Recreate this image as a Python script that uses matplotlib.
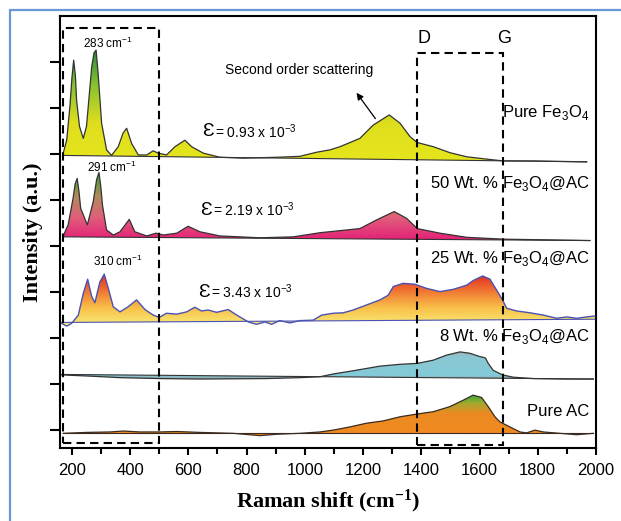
import numpy as np
import matplotlib
import matplotlib.pyplot as plt
from matplotlib.patches import Polygon, Rectangle
from matplotlib.colors import LinearSegmentedColormap

plt.rcParams['font.family'] = ['Liberation Sans', 'DejaVu Sans']
plt.rcParams['mathtext.fontset'] = 'custom'
plt.rcParams['mathtext.rm'] = 'Liberation Sans'
plt.rcParams['mathtext.bf'] = 'Liberation Serif:bold'

# Raman shift (cm-1) / stacked intensity
fe_x = [168, 182, 193, 200, 206, 212, 216, 226, 239, 250, 256, 268, 276, 283, 290, 302, 319, 336, 359, 376,
        388, 405, 428, 457, 479, 496, 525, 554, 588, 611, 651, 708, 788, 903, 983, 1041, 1086, 1121, 1189, 1235,
        1290, 1327, 1361, 1386, 1441, 1498, 1556, 1624, 1682, 1785, 1968]
fe_y = [5.97, 6.30, 7.03, 7.65, 8.04, 7.70, 7.17, 6.60, 6.34, 6.60, 7.03, 7.90, 8.20, 8.26, 7.75, 6.67, 6.09, 5.97, 6.16, 6.46,
        6.56, 6.23, 5.98, 5.98, 6.07, 6.02, 5.98, 6.16, 6.30, 6.16, 6.02, 5.93, 5.91, 5.93, 5.95, 6.04, 6.09, 6.16, 6.34, 6.63,
        6.85, 6.67, 6.38, 6.25, 6.16, 6.03, 5.94, 5.89, 5.85, 5.85, 5.83]

p50_x = [170, 187, 204, 211, 218, 224, 230, 253, 273, 285, 293, 299, 305, 319, 342, 365, 397, 416, 457, 489,
         514, 560, 599, 640, 708, 846, 960, 1052, 1189, 1247, 1307, 1350, 1386, 1464, 1556, 1682, 1979]
p50_y = [4.22, 4.46, 5.04, 5.35, 5.47, 5.20, 4.82, 4.46, 4.96, 5.45, 5.60, 5.30, 4.89, 4.35, 4.24, 4.31, 4.58, 4.31, 4.22, 4.28,
         4.24, 4.28, 4.43, 4.31, 4.22, 4.18, 4.20, 4.29, 4.38, 4.57, 4.75, 4.60, 4.38, 4.28, 4.19, 4.15, 4.12]

p25_x = [165, 182, 199, 222, 239, 254, 268, 279, 296, 311, 325, 342, 365, 393, 422, 451, 479, 500, 525, 560,
         594, 622, 645, 668, 697, 737, 766, 806, 834, 863, 886, 914, 949, 983, 1029, 1058, 1098, 1132, 1166, 1212,
         1258, 1286, 1304, 1338, 1378, 1418, 1464, 1510, 1556, 1578, 1611, 1636, 1659, 1679, 1693, 1727, 1773, 1819, 1865, 1899,
         1934, 1968, 1996]
p25_y = [2.32, 2.26, 2.32, 2.50, 2.97, 3.28, 2.90, 2.77, 3.22, 3.39, 3.08, 2.68, 2.57, 2.68, 2.83, 2.62, 2.50, 2.45, 2.54, 2.52,
         2.57, 2.67, 2.59, 2.61, 2.56, 2.62, 2.50, 2.35, 2.30, 2.35, 2.30, 2.38, 2.33, 2.38, 2.39, 2.50, 2.54, 2.55, 2.61, 2.72,
         2.83, 2.93, 3.12, 3.19, 3.17, 3.08, 3.01, 3.06, 3.15, 3.25, 3.35, 3.28, 3.04, 2.83, 2.65, 2.59, 2.55, 2.50, 2.43, 2.46,
         2.43, 2.46, 2.48]

p8_x = [165, 273, 365, 502, 640, 869, 983, 1052, 1098, 1166, 1258, 1327, 1386, 1441, 1487, 1533, 1567, 1600, 1620, 1630,
        1647, 1679, 1716, 1785, 1899, 1991]
p8_y = [1.20, 1.17, 1.14, 1.12, 1.11, 1.12, 1.14, 1.16, 1.22, 1.29, 1.39, 1.43, 1.45, 1.52, 1.63, 1.70, 1.67, 1.60, 1.57, 1.45,
        1.30, 1.20, 1.15, 1.12, 1.11, 1.11]

ac_x = [170, 250, 331, 376, 434, 502, 560, 640, 754, 846, 903, 983, 1052, 1098, 1155, 1212, 1269, 1327, 1386, 1441,
        1498, 1544, 1578, 1607, 1630, 1653, 1670, 1704, 1739, 1762, 1790, 1819, 1876, 1934, 1991]
ac_y = [-0.07, -0.05, -0.04, -0.02, -0.04, -0.04, -0.03, -0.05, -0.07, -0.12, -0.09, -0.07, -0.04, 0.00, 0.07, 0.15, 0.20, 0.29, 0.35, 0.40,
        0.51, 0.65, 0.76, 0.71, 0.51, 0.29, 0.18, 0.07, -0.04, -0.06, 0.00, -0.04, -0.07, -0.10, -0.07]

# baseline (left, right) under each trace
fe_base = (5.97, 5.83)
p50_base = (4.20, 4.12)
p25_base = (2.34, 2.41)
p8_base = (1.21, 1.11)
ac_base = (-0.07, -0.07)

fig = plt.figure(figsize=(6.21, 5.21), dpi=100)
ax = fig.add_axes([0.0966, 0.140, 0.8631, 0.8293])

# light blue frame around the figure
fig.patches.append(Rectangle((10 / 621, -0.2), 1.2, 1.2 - 10 / 521, transform=fig.transFigure,
                             fill=False, edgecolor='#6a98d4', lw=1.6, zorder=0))


def grad_fill(x, y, base, stops, edge, lw=0.9):
    x = np.asarray(x, float)
    y = np.asarray(y, float)
    verts = list(zip(x, y)) + [(x[-1], base[1]), (x[0], base[0])]
    poly = Polygon(verts, closed=True, facecolor='none', edgecolor='none')
    ax.add_patch(poly)
    cmap = LinearSegmentedColormap.from_list('g', stops)
    lo = min(y.min(), base[0], base[1])
    hi = y.max()
    im = ax.imshow(np.linspace(0, 1, 256).reshape(-1, 1), extent=[x[0], x[-1], lo, hi],
                   origin='lower', aspect='auto', cmap=cmap, zorder=2)
    im.set_clip_path(poly)
    ax.plot(x, y, color=edge, lw=lw, zorder=3)
    ax.plot([x[0], x[-1]], base, color=edge, lw=0.8, zorder=3)


grad_fill(fe_x, fe_y, fe_base,
          [(0, '#e6e61c'), (0.35, '#dede1e'), (0.7, '#86c030'), (1, '#2a8a3a')], '#333333')
grad_fill(p50_x, p50_y, p50_base,
          [(0, '#e41e78'), (0.35, '#e0607a'), (0.65, '#b08a5c'), (1, '#3a9c3a')], '#333333')
grad_fill(p25_x, p25_y, p25_base,
          [(0, '#f8ec7a'), (0.35, '#f8c048'), (0.7, '#f07030'), (1, '#e02a20')], '#4a52b4', lw=1.0)
grad_fill(p8_x, p8_y, p8_base,
          [(0, '#9aa2a4'), (0.12, '#84cad8'), (0.8, '#8ac8d2'), (1, '#a4a8aa')], '#333333')
grad_fill(ac_x, ac_y, ac_base,
          [(0, '#f08a20'), (0.55, '#ec8a22'), (0.8, '#a4a830'), (1, '#30b038')], '#3a2a20')

# dashed boxes
dash = (0, (4, 2.5))
ax.add_patch(Rectangle((169, -0.28), 331, 9.02, fill=False, ls=dash, lw=1.5, edgecolor='black', zorder=4))
ax.add_patch(Rectangle((1385, -0.33), 295, 8.53, fill=False, ls=dash, lw=1.5, edgecolor='black', zorder=4))

ax.text(1409, 8.52, 'D', fontsize=13, ha='center', va='center')
ax.text(1683, 8.52, 'G', fontsize=13, ha='center', va='center')

# peak labels
ax.text(238, 8.41, '283 cm$^{-1}$', fontsize=8.5, va='center')
ax.text(252, 5.72, '291 cm$^{-1}$', fontsize=8.5, va='center')
ax.text(272, 3.67, '310 cm$^{-1}$', fontsize=8.5, va='center')

# strain values
for xe, ye, s in [(646, 6.48, '0.93'), (640, 4.78, '2.19'), (634, 3.00, '3.43')]:
    ax.text(xe, ye, '\u0190', fontsize=14, va='center', family=['Liberation Sans', 'DejaVu Sans'])
    ax.text(xe + 44, ye, '= ' + s + ' x 10$^{-3}$', fontsize=10, va='center')

ax.text(726, 7.83, 'Second order scattering', fontsize=10, va='center')
ax.annotate('', xy=(1172, 7.38), xytext=(1248, 6.72),
            arrowprops=dict(arrowstyle='-|>', color='black', lw=0.9, mutation_scale=10))

# sample labels
ax.text(1978, 6.91, 'Pure Fe$_3$O$_4$', fontsize=12, ha='right', va='center')
ax.text(1978, 5.37, '50 Wt. % Fe$_3$O$_4$@AC', fontsize=12, ha='right', va='center')
ax.text(1978, 3.74, '25 Wt. % Fe$_3$O$_4$@AC', fontsize=12, ha='right', va='center')
ax.text(1978, 2.04, '8 Wt. % Fe$_3$O$_4$@AC', fontsize=12, ha='right', va='center')
ax.text(1978, 0.40, 'Pure AC', fontsize=12, ha='right', va='center')

ax.set_xlim(159, 2000)
ax.set_ylim(-0.39, 9.0)
ax.set_xticks(np.arange(200, 2001, 200))
ax.set_xticks(np.arange(300, 2000, 200), minor=True)
ax.set_yticks(np.arange(0, 9))
ax.set_yticklabels([])
ax.tick_params(axis='x', which='major', direction='out', length=5, width=1.5, labelsize=12, pad=6)
ax.tick_params(axis='x', which='minor', direction='out', length=4, width=1.5)
ax.tick_params(axis='y', direction='out', length=7, width=1.5)
for sp in ax.spines.values():
    sp.set_linewidth(1.5)

ax.set_xlabel(r'Raman shift (cm$\mathbf{^{-1}}$)', family='Liberation Serif', fontweight='bold',
              fontsize=16, labelpad=7)
ax.set_ylabel('Intensity (a.u.)', family='Liberation Serif', fontweight='bold', fontsize=16, labelpad=2)

fig.savefig('out.png', dpi=100)
